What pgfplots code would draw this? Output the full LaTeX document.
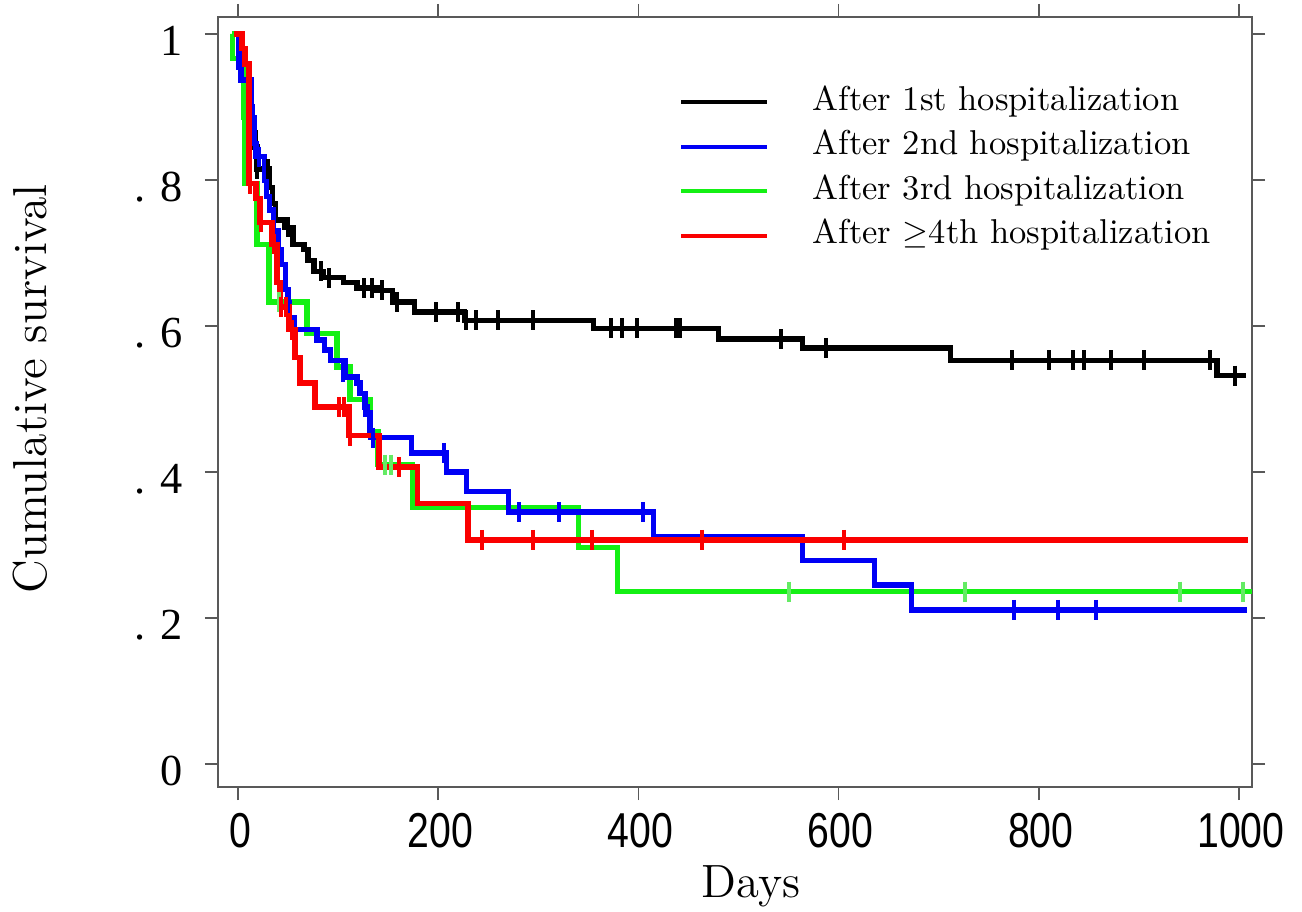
\documentclass[border=0pt]{standalone}
\usepackage{pgfplots}
\pgfplotsset{compat=1.18}
\usepackage{fontspec}
\newfontfamily\xtickfont{Liberation Sans}
\newfontfamily\ytickfont{Liberation Serif}
\definecolor{kmgreen}{RGB}{20,240,20}
\definecolor{kmgreenc}{RGB}{100,235,100}
\definecolor{kmblue}{RGB}{0,0,245}
\definecolor{kmred}{RGB}{250,0,0}
\begin{document}
\begin{tikzpicture}
\path[use as bounding box] (-65.4pt,-37.2pt) rectangle (325.2pt,236.1pt);
\begin{axis}[
  at={(0pt,0pt)}, anchor=south west,
  scale only axis, width=310.2pt, height=231pt,
  xmin=-20, xmax=1013, ymin=-0.0315, ymax=1.0233,
  xtick={0,200,400,600,800,1000},
  ytick={0,0.2,0.4,0.6,0.8,1},
  xticklabels={\scalebox{0.8}[1]{0},\scalebox{0.8}[1]{200},\scalebox{0.8}[1]{400},\scalebox{0.8}[1]{600},\scalebox{0.8}[1]{800},\scalebox{0.8}[1]{1000}},
  yticklabels={0,. 2,. 4,. 6,. 8,1},
  tick align=outside, major tick length=3.9pt,
  axis line style={draw=black!65, line width=0.5pt},
  every tick/.style={draw=black!65, line width=0.5pt},
  xticklabel style={font=\xtickfont\fontsize{14.7}{16}\selectfont, anchor=north, inner sep=0pt, yshift=-3.9pt, xshift=0.6pt},
  yticklabel style={font=\ytickfont\fontsize{13.3}{15}\selectfont, anchor=east, inner sep=0pt, xshift=-6.6pt, yshift=-2.2pt},
  xlabel={Days},
  ylabel={Cumulative survival},
  xlabel style={font=\fontsize{14}{16}\selectfont, at={(axis description cs:0.5155,-0.1429)}, anchor=base},
  ylabel style={font=\fontsize{14.3}{16}\selectfont, at={(axis description cs:-0.1663,0.517)}, anchor=base},
  legend style={draw=none, fill=none, at={(axis description cs:0.4359,0.928)}, anchor=north west,
    font=\fontsize{10.35}{12}\selectfont, nodes={text height=7.5pt, text depth=2.5pt, inner ysep=1.675pt}},
  legend cell align=left,
  legend image code/.code={\draw[#1] (0pt,0pt) -- (25.8pt,0pt);},
]
\addlegendimage{black, line width=1.2pt}
\addlegendentry{\hspace{11pt}After 1st hospitalization}
\addlegendimage{kmblue, line width=1.2pt}
\addlegendentry{\hspace{11pt}After 2nd hospitalization}
\addlegendimage{kmgreen, line width=1.2pt}
\addlegendentry{\hspace{11pt}After 3rd hospitalization}
\addlegendimage{kmred, line width=1.2pt}
\addlegendentry{\hspace{11pt}After $\geq$4th hospitalization}

% After 1st hospitalization
\addplot[const plot, black, line width=1.6pt, forget plot] coordinates {
(0,1.000) (1,0.985) (3,0.970) (5,0.955) (7,0.940) (9,0.920) (11,0.900) (13,0.886)
(15,0.865) (17,0.845) (19,0.815) (31.5,0.790) (34.5,0.768) (37.6,0.745) (46.7,0.735)
(54.8,0.712) (66,0.705) (70,0.690) (76,0.675) (85.3,0.666) (105.6,0.660) (118.8,0.652)
(139,0.649) (154,0.633) (176.6,0.619) (226,0.608) (355,0.597) (480,0.582) (564,0.570)
(712,0.553) (978,0.532) (1007,0.532)};
\addplot[only marks, mark=|, mark size=3pt, mark options={black, line width=1.2pt}, forget plot] coordinates {
(19,0.815) (29.5,0.815) (50,0.735) (83,0.675) (91,0.666) (126,0.652) (134,0.652) (144,0.649)
(159,0.633) (198,0.619) (220,0.619) (228,0.608) (237.5,0.608) (260,0.608) (295,0.608)
(372.5,0.597) (384,0.597) (399,0.597) (437.5,0.597) (441.5,0.597) (542,0.582) (587,0.570)
(773.5,0.553) (810,0.553) (834,0.553) (845.5,0.553) (872,0.553) (905,0.553) (971,0.553) (996,0.532)};

% After 3rd hospitalization
\addplot[const plot, kmgreen, line width=1.6pt, forget plot] coordinates {
(-6,1.000) (-5.5,0.966) (6,0.886) (7,0.795) (19,0.712) (31,0.633) (69,0.590) (99,0.544)
(112,0.499) (132,0.455) (140,0.410) (174.5,0.351) (340,0.297) (379,0.236) (1013,0.236)};
\addplot[only marks, mark=|, mark size=3pt, mark options={kmgreenc, line width=1.2pt}, forget plot] coordinates {
(41,0.633) (146.4,0.410) (152.5,0.410) (550.7,0.236) (726,0.236) (941,0.236) (1004,0.236)};

% After 2nd hospitalization
\addplot[const plot, kmblue, line width=1.6pt, forget plot] coordinates {
(0,1.000) (1,0.955) (3,0.937) (13,0.900) (14,0.886) (16,0.850) (18,0.832) (26.4,0.800)
(28.4,0.777) (31.5,0.759) (35.5,0.730) (40.6,0.704) (43.7,0.684) (47.7,0.650) (49.8,0.632)
(50.8,0.612) (55.8,0.595) (79,0.581) (86.3,0.567) (92.4,0.553) (107.6,0.530) (118.8,0.522)
(121.8,0.508) (126.9,0.489) (129,0.481) (132,0.457) (133,0.447) (173.6,0.426) (208,0.400)
(228.4,0.373) (270,0.345) (415,0.311) (564,0.279) (636,0.245) (673,0.211) (1008,0.211)};
\addplot[only marks, mark=|, mark size=3pt, mark options={kmblue, line width=1.2pt}, forget plot] coordinates {
(21.3,0.832) (49.8,0.632) (104.6,0.537) (127,0.489) (135,0.447) (206,0.426) (281,0.345)
(321,0.345) (405,0.345) (775.5,0.211) (819,0.211) (857,0.211)};

% After >=4th hospitalization
\addplot[const plot, kmred, line width=1.6pt, forget plot] coordinates {
(-4,1.000) (4,0.980) (7,0.959) (11,0.795) (18,0.775) (22,0.742) (34,0.712) (39,0.660)
(42,0.626) (51,0.595) (57,0.557) (62,0.522) (77,0.489) (111,0.450) (141,0.407)
(179.5,0.357) (229.7,0.307) (1009,0.307)};
\addplot[only marks, mark=|, mark size=3pt, mark options={kmred, line width=1.2pt}, forget plot] coordinates {
(12,0.795) (23.1,0.742) (36,0.712) (43,0.626) (48,0.626) (54,0.595) (101,0.489) (106,0.489)
(112,0.450) (160.5,0.407) (243.7,0.307) (295,0.307) (354,0.307) (464,0.307) (605,0.307)};
\end{axis}
\end{tikzpicture}
\end{document}
